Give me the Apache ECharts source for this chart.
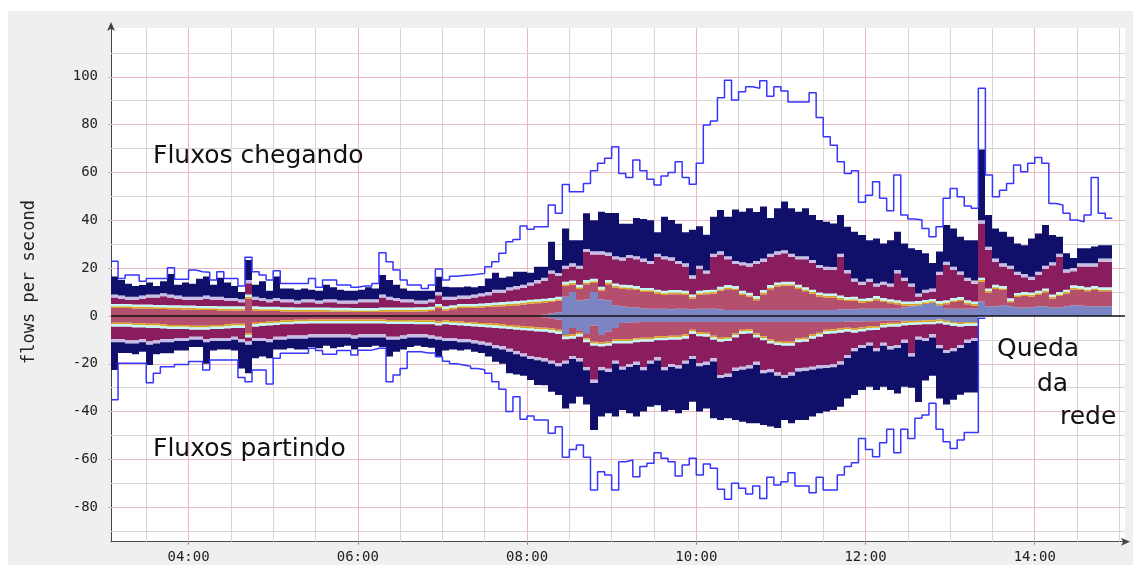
<!DOCTYPE html>
<html>
<head>
<meta charset="utf-8">
<script src="https://cdn.jsdelivr.net/npm/echarts@6/dist/echarts.min.js"></script>
<style>
  html, body { margin: 0; padding: 0; background: #fff; }
  #chart { width: 1133px; height: 565px; }
</style>
</head>
<body>
<div id="chart"></div>
<script>
// Flow rate per 5-minute bin, starting at 03:05 (minutes after midnight)
const startMinute = 185;
const binMinutes = 5;

// Incoming flows (positive side)
const inPeak = [
  22.9, 15.7, 17.1, 17.1, 14.5, 15.7, 15.7, 15.7, 20.2, 15.3,
  15.3, 19.2, 18.5, 18.3, 15.0, 18.5, 15.7, 15.7, 12.5, 24.5,
  18.5, 17.1, 15.0, 18.9, 13.6, 13.6, 13.6, 13.6, 15.7, 12.0,
  15.0, 15.0, 12.9, 12.9, 12.0, 12.5, 12.5, 13.6, 26.4, 22.7,
  19.2, 15.0, 12.9, 12.9, 11.5, 12.9, 19.6, 15.0, 16.6, 16.9,
  17.1, 17.4, 17.8, 20.6, 22.7, 26.2, 31.0, 32.0, 37.6, 36.2,
  37.3, 37.3, 46.4, 42.9, 55.0, 51.9, 51.9, 55.4, 60.7, 63.8,
  65.9, 70.7, 59.6, 57.9, 65.2, 60.7, 57.2, 54.7, 58.5, 60.0,
  64.5, 57.9, 55.1, 63.8, 79.8, 81.5, 91.2, 98.6, 90.3, 93.7,
  95.8, 95.2, 98.3, 91.9, 95.8, 94.1, 89.5, 89.5, 89.5, 93.3,
  83.0, 74.9, 71.4, 64.5, 59.6, 60.7, 47.5, 50.5, 56.1, 49.2,
  44.0, 58.9, 42.2, 40.5, 40.1, 36.6, 33.1, 37.3, 49.2, 53.3,
  49.8, 46.0, 45.0, 95.2, 58.9, 49.8, 52.6, 55.4, 63.1, 60.3,
  63.8, 66.3, 63.8, 47.0, 46.4, 42.9, 40.1, 39.4, 42.2, 57.9,
  42.9, 40.8
];
const inTotal = [
  16.5, 15.0, 13.5, 12.5, 12.9, 14.0, 12.5, 14.5, 17.5, 13.0,
  14.0, 13.5, 15.5, 16.5, 13.0, 16.0, 14.0, 12.5, 10.0, 23.4,
  13.0, 14.5, 10.5, 16.5, 11.5, 11.5, 11.0, 11.5, 11.0, 10.5,
  13.0, 12.0, 11.0, 10.5, 10.5, 11.0, 12.0, 11.5, 17.1, 15.0,
  13.0, 11.5, 10.5, 10.5, 10.5, 10.5, 16.4, 12.2, 12.0, 12.0,
  12.3, 12.0, 12.5, 15.7, 18.1, 16.0, 16.5, 18.5, 18.5, 18.1,
  20.6, 20.6, 31.0, 23.4, 36.6, 31.7, 31.7, 42.9, 40.0, 43.6,
  43.0, 43.0, 38.5, 38.5, 41.0, 40.5, 40.0, 35.0, 41.5, 40.1,
  38.5, 35.0, 36.0, 37.5, 34.0, 41.5, 44.3, 41.5, 44.5, 43.6,
  45.0, 43.5, 45.8, 41.0, 45.0, 47.8, 45.0, 43.6, 45.0, 42.2,
  40.1, 39.4, 38.7, 42.2, 37.3, 35.2, 33.8, 31.7, 32.4, 30.3,
  31.7, 35.2, 30.3, 28.3, 27.6, 26.2, 22.1, 26.9, 38.0, 36.6,
  33.1, 31.7, 31.7, 69.6, 42.2, 36.6, 35.2, 33.1, 30.3, 29.6,
  32.4, 34.5, 38.0, 33.8, 33.1, 26.2, 24.2, 28.3, 28.3, 29.0,
  29.6, 29.6
];
const inMaroon = [
  9.0, 8.5, 8.0, 8.0, 8.5, 9.0, 9.0, 9.5, 9.0, 8.5,
  8.0, 8.0, 8.0, 8.5, 8.0, 8.0, 7.5, 7.5, 7.0, 15.0,
  8.0, 7.5, 7.0, 7.5, 7.0, 7.0, 6.5, 7.0, 7.0, 6.5,
  7.0, 7.0, 6.5, 6.5, 6.5, 7.0, 7.0, 7.0, 9.0, 8.0,
  7.5, 7.0, 7.0, 6.5, 6.5, 7.0, 10.0, 8.0, 8.0, 8.5,
  8.5, 9.0, 9.5, 10.0, 11.0, 11.0, 12.0, 12.5, 13.0, 14.0,
  15.0, 16.0, 19.0, 18.0, 21.0, 22.0, 21.0, 28.0, 27.0, 27.0,
  26.5, 25.0, 24.5, 25.5, 25.0, 24.0, 23.0, 26.0, 25.0, 24.5,
  23.0, 22.0, 17.0, 21.0, 19.0, 26.0, 27.0, 25.0, 23.0, 22.5,
  22.0, 23.0, 24.0, 26.0, 27.0, 27.5, 26.0, 25.0, 25.0, 23.4,
  21.3, 20.6, 20.5, 26.0, 19.2, 15.7, 14.3, 15.5, 13.6, 14.3,
  13.6, 19.2, 16.0, 13.6, 9.4, 11.0, 11.5, 18.5, 22.7, 20.6,
  18.6, 16.0, 14.8, 40.0, 28.9, 24.0, 22.0, 21.0, 18.5, 17.5,
  16.4, 18.5, 21.0, 22.5, 26.0, 19.5, 20.0, 22.0, 22.0, 22.0,
  24.0, 24.0
];
const inCyan = [
  5.0, 5.0, 5.0, 4.8, 4.8, 4.8, 4.6, 4.6, 4.5, 4.5,
  4.4, 4.4, 4.2, 4.2, 4.2, 4.0, 4.0, 4.0, 4.0, 9.0,
  4.0, 3.8, 3.8, 3.8, 3.6, 3.6, 3.5, 3.5, 3.5, 3.5,
  3.5, 3.4, 3.4, 3.4, 3.3, 3.3, 3.3, 3.3, 3.5, 3.5,
  3.5, 3.5, 3.5, 3.6, 3.6, 3.8, 5.0, 4.0, 4.5, 5.0,
  5.0, 5.0, 5.2, 5.4, 5.6, 5.8, 6.0, 6.2, 6.5, 6.8,
  7.0, 7.2, 7.5, 8.0, 14.3, 14.8, 13.0, 15.0, 15.5, 12.2,
  15.0, 13.6, 13.0, 12.9, 12.5, 11.7, 11.7, 11.0, 10.5, 10.8,
  10.8, 10.5, 9.0, 10.5, 10.8, 11.0, 12.2, 12.9, 12.5, 10.5,
  9.7, 8.3, 10.8, 12.9, 14.0, 14.3, 14.3, 13.0, 12.0, 11.0,
  9.8, 9.4, 9.4, 8.5, 7.9, 8.0, 7.2, 7.5, 8.3, 7.5,
  7.0, 6.6, 6.0, 6.0, 5.4, 5.0, 4.5, 4.1, 6.6, 7.5,
  7.9, 6.6, 6.0, 16.0, 11.5, 13.0, 12.5, 7.4, 9.6, 10.0,
  9.8, 10.5, 11.5, 9.0, 10.0, 11.0, 12.8, 12.5, 12.0, 12.5,
  12.0, 12.0
];
const inSlate = [
  0, 0, 0, 0, 0, 0, 0, 0, 0, 0,
  0, 0, 0, 0, 0, 0, 0, 0, 0, 0,
  0, 0, 0, 0, 0, 0, 0, 0, 0, 0,
  0, 0, 0, 0, 0, 0, 0, 0, 0, 0,
  0, 0, 0, 0, 0, 0, 0, 0, 0, 0,
  0, 0, 0, 0, 0, 0, 0, 0, 0, 0,
  0, 0.5, 1.0, 1.5, 8.0, 10.0, 6.5, 7.0, 10.0, 7.0,
  6.5, 4.5, 4.0, 3.5, 3.5, 3.2, 3.0, 3.0, 3.0, 2.8,
  3.0, 3.0, 2.8, 3.0, 3.0, 3.0, 2.8, 2.5, 2.5, 2.5,
  2.5, 2.5, 2.5, 2.5, 2.5, 2.5, 2.5, 2.5, 2.5, 2.5,
  2.5, 2.5, 2.5, 2.8, 2.8, 2.8, 3.0, 3.0, 3.0, 3.0,
  3.0, 3.0, 3.5, 4.0, 4.5, 5.0, 5.4, 4.5, 3.0, 3.0,
  3.0, 3.0, 3.0, 6.0, 4.0, 4.0, 4.5, 4.0, 3.5, 3.5,
  3.5, 4.0, 4.0, 3.5, 3.5, 4.0, 4.5, 4.5, 4.0, 4.0,
  4.0, 4.0
];

// Outgoing flows (negative side); the last bin is the moment the network went down
const outPeak = [
  -35.0, -19.8, -19.8, -19.8, -19.8, -27.9, -24.0, -21.2, -21.2, -20.3,
  -20.3, -19.1, -19.1, -22.6, -18.4, -18.4, -18.4, -18.4, -25.7, -27.5,
  -22.6, -22.6, -28.5, -17.7, -15.6, -15.6, -15.6, -15.6, -13.5, -14.5,
  -16.0, -16.0, -14.5, -14.5, -16.3, -14.3, -14.3, -13.5, -13.5, -27.5,
  -24.7, -22.0, -15.0, -15.0, -15.5, -15.5, -17.1, -18.9, -20.0, -20.5,
  -21.0, -22.0, -22.5, -24.0, -27.5, -30.7, -40.0, -33.8, -43.2, -41.8,
  -43.5, -43.5, -49.1, -46.3, -59.1, -55.8, -54.0, -59.1, -72.8, -65.1,
  -66.5, -72.8, -61.0, -60.2, -67.2, -63.0, -61.6, -57.2, -59.5, -61.0,
  -66.9, -62.3, -59.5, -66.5, -61.9, -63.7, -72.5, -76.7, -70.0, -72.1,
  -74.5, -71.1, -76.3, -67.5, -70.7, -69.3, -65.6, -71.1, -71.1, -73.9,
  -67.5, -72.8, -72.8, -66.5, -63.0, -61.4, -51.2, -55.8, -58.9, -53.0,
  -47.4, -57.2, -47.4, -51.2, -42.8, -41.4, -36.5, -47.4, -52.6, -55.4,
  -51.9, -48.7, -48.7, -1.0
];
const outTotal = [
  -22.6, -15.5, -15.5, -16.0, -15.0, -20.5, -16.0, -15.6, -15.6, -14.5,
  -14.5, -13.0, -13.0, -20.0, -14.5, -14.0, -14.0, -14.5, -22.0, -24.0,
  -17.7, -17.0, -17.7, -14.0, -14.0, -13.5, -14.0, -14.0, -13.0, -13.5,
  -12.5, -13.5, -13.0, -12.5, -14.0, -13.0, -13.0, -12.5, -13.0, -17.0,
  -15.0, -14.0, -13.0, -12.5, -13.0, -13.3, -17.0, -14.4, -14.0, -14.5,
  -14.0, -15.0, -15.5, -17.0, -19.2, -20.0, -24.0, -24.5, -25.0, -26.8,
  -28.9, -29.0, -31.7, -33.1, -38.7, -36.6, -33.8, -37.0, -47.7, -42.1,
  -40.7, -42.0, -39.3, -40.7, -42.1, -40.0, -38.0, -37.3, -40.0, -39.3,
  -40.7, -39.3, -35.9, -40.0, -38.7, -42.8, -43.5, -42.8, -43.5, -44.2,
  -44.9, -44.9, -45.6, -46.2, -46.9, -43.5, -44.9, -43.5, -43.5, -42.1,
  -40.7, -40.0, -39.3, -38.0, -34.5, -33.1, -31.0, -29.6, -31.0, -29.6,
  -31.0, -32.4, -29.6, -30.0, -36.0, -27.0, -25.0, -34.5, -37.0, -35.0,
  -33.0, -32.0, -32.0, 0
];
const outMaroon = [
  -11.0, -11.0, -11.5, -11.5, -11.0, -12.0, -11.5, -11.0, -11.0, -10.5,
  -10.5, -10.0, -10.0, -11.0, -10.5, -10.5, -10.5, -10.0, -11.0, -12.0,
  -10.5, -10.5, -11.0, -10.0, -10.0, -9.5, -9.5, -9.5, -9.0, -9.0,
  -9.0, -9.0, -9.0, -9.0, -9.5, -9.0, -9.0, -9.0, -9.0, -10.0,
  -10.0, -9.5, -9.0, -9.0, -9.0, -9.5, -10.0, -10.5, -10.5, -11.0,
  -11.0, -11.5, -12.0, -12.5, -13.5, -14.0, -15.0, -16.0, -17.0, -18.0,
  -18.5, -19.0, -20.0, -21.0, -20.0, -18.0, -19.0, -22.7, -28.0, -22.7,
  -23.4, -20.0, -22.5, -21.4, -20.5, -22.7, -20.0, -18.6, -22.7, -21.4,
  -22.0, -20.0, -18.0, -21.0, -20.5, -19.0, -26.0, -25.5, -23.0, -22.5,
  -22.0, -20.5, -24.0, -23.5, -25.0, -26.0, -25.0, -23.2, -23.0, -22.5,
  -22.0, -21.8, -21.5, -20.4, -17.6, -14.8, -13.4, -12.5, -14.8, -12.5,
  -14.0, -13.4, -11.3, -17.0, -10.0, -10.5, -9.0, -13.5, -15.5, -14.8,
  -13.4, -11.3, -10.5, 0
];
const outCyan = [
  -4.5, -4.5, -4.5, -4.8, -4.8, -5.0, -5.0, -5.2, -5.5, -5.5,
  -5.5, -5.8, -5.8, -5.8, -5.5, -5.5, -5.2, -5.0, -5.0, -9.0,
  -4.5, -4.2, -4.0, -3.8, -3.5, -3.5, -3.3, -3.3, -3.2, -3.2,
  -3.2, -3.2, -3.2, -3.2, -3.2, -3.2, -3.2, -3.2, -3.2, -3.4,
  -3.4, -3.4, -3.4, -3.5, -3.5, -3.5, -4.0, -3.5, -3.8, -4.0,
  -4.2, -4.4, -4.6, -4.8, -5.0, -5.2, -5.5, -5.8, -6.0, -6.2,
  -6.5, -6.6, -7.0, -7.5, -8.7, -9.5, -8.7, -11.0, -12.5, -12.8,
  -12.5, -11.5, -11.5, -11.5, -11.0, -10.8, -10.8, -10.2, -10.2, -10.0,
  -10.0, -9.5, -7.5, -8.5, -8.7, -10.0, -10.8, -10.5, -9.0, -7.5,
  -7.3, -9.0, -10.2, -11.5, -12.2, -12.5, -12.5, -11.0, -10.8, -9.5,
  -8.7, -7.5, -7.3, -7.0, -6.6, -7.0, -6.5, -6.0, -5.9, -4.8,
  -4.5, -4.5, -4.0, -3.8, -3.3, -3.1, -2.7, -2.4, -3.5, -4.2,
  -4.5, -4.0, -3.5, 0
];
const outSlate = [
  0, 0, 0, 0, 0, 0, 0, 0, 0, 0,
  0, 0, 0, 0, 0, 0, 0, 0, 0, 0,
  0, 0, 0, 0, 0, 0, 0, 0, 0, 0,
  0, 0, 0, 0, 0, 0, 0, 0, 0, 0,
  0, 0, 0, 0, 0, 0, 0, 0, 0, 0,
  0, 0, 0, 0, 0, 0, 0, 0, 0, 0,
  0, -0.5, -1.0, -1.5, -8.0, -5.0, -6.0, -7.5, -4.0, -8.0,
  -6.5, -5.0, -3.0, -2.8, -2.6, -2.5, -2.5, -2.5, -2.5, -2.5,
  -2.5, -2.5, -2.5, -2.5, -2.5, -2.5, -2.5, -2.5, -2.5, -2.5,
  -2.5, -2.5, -2.5, -2.5, -2.5, -2.5, -2.5, -2.5, -2.5, -2.5,
  -2.5, -2.5, -2.5, -2.5, -2.3, -2.3, -2.3, -2.2, -2.2, -2.0,
  -2.0, -2.0, -2.0, -2.0, -2.0, -1.8, -1.8, -1.5, -2.0, -2.5,
  -2.5, -2.5, -2.5, 0
];

// Thickness of the narrow layers (flows per second)
const orangeBand = 0.7;
const cyanBand = 1.0;
const lavenderBand = 1.3;

// Axis ticks
const yTickValues = [-80, -60, -40, -20, 0, 20, 40, 60, 80, 100];
const xTickMinutes = [240, 360, 480, 600, 720, 840];

// Layer colours, from the zero line outwards
const layerColors = ['#7c85c3', '#b4506e', '#dba523', '#c4f7f7', '#8a1d5d', '#c7bde6', '#10106a'];

const binStart = i => startMinute + i * binMinutes;

// Step points: each value holds for its whole bin, closed by a final point
function stepPoints(values) {
  const pts = values.map((v, i) => [binStart(i), v]);
  pts.push([binStart(values.length), values[values.length - 1]]);
  return pts;
}

// One row per bin: [binStart, binEnd, boundary0 .. boundary7] in signed flow units
function layerRows(total, maroon, cyan, slate, sign) {
  return total.map((tv, i) => {
    const t = Math.abs(tv);
    let b;
    if (t === 0) {
      b = [0, 0, 0, 0, 0, 0, 0, 0];
    } else {
      const b1 = Math.abs(slate[i]);
      const b2 = Math.max(b1, Math.abs(cyan[i]) - cyanBand - orangeBand);
      const b3 = b2 + orangeBand;
      const b4 = b3 + cyanBand;
      const b5 = Math.max(b4, Math.abs(maroon[i]) - lavenderBand);
      const b6 = b5 + lavenderBand;
      const b7 = Math.max(b6, t);
      b = [0, b1, b2, b3, b4, b5, b6, b7];
    }
    return [binStart(i), binStart(i + 1)].concat(b.map(v => sign * v));
  });
}

const inRows = layerRows(inTotal, inMaroon, inCyan, inSlate, 1);
const outRows = layerRows(outTotal, outMaroon, outCyan, outSlate, -1);

function renderLayers(params, api) {
  const xa = Math.round(api.coord([api.value(0), 0])[0]);
  const xb = Math.round(api.coord([api.value(1), 0])[0]);
  const children = [];
  for (let j = 0; j < 7; j++) {
    const ya = api.coord([api.value(0), api.value(2 + j)])[1];
    const yb = api.coord([api.value(0), api.value(3 + j)])[1];
    const h = Math.abs(yb - ya);
    if (h < 0.01) continue;
    children.push({
      type: 'rect',
      shape: { x: xa, y: Math.min(ya, yb), width: xb - xa, height: h },
      style: { fill: layerColors[j] }
    });
  }
  return { type: 'group', children };
}

function layerSeries(name, rows) {
  return {
    type: 'custom',
    name: name,
    data: rows,
    renderItem: renderLayers,
    encode: { x: [0, 1], y: [2, 3, 4, 5, 6, 7, 8, 9] },
    z: 3,
    silent: true,
    clip: true
  };
}

function peakSeries(name, values) {
  return {
    type: 'line',
    name: name,
    step: 'end',
    data: stepPoints(values),
    showSymbol: false,
    symbol: 'none',
    lineStyle: { color: '#3535ff', width: 1.5 },
    z: 4,
    silent: true
  };
}

const pinkGrid = '#ecb6c2';
const greyGrid = '#d6d6d6';
const gridLines = [];
for (let m = 210; m <= 900; m += 30) {
  gridLines.push({ xAxis: m, lineStyle: { color: m % 120 === 0 ? pinkGrid : greyGrid } });
}
for (let v = -90; v <= 110; v += 10) {
  if (v === 0) continue;
  gridLines.push({ yAxis: v, lineStyle: { color: v % 20 === 0 ? pinkGrid : greyGrid } });
}

const hourLabel = m => String(Math.floor(m / 60)).padStart(2, '0') + ':00';

const chart = echarts.init(document.getElementById('chart'), null, { renderer: 'canvas' });

chart.setOption({
  animation: false,
  backgroundColor: '#ffffff',
  grid: { left: 111, right: 8, top: 28, bottom: 23.3, containLabel: false },
  xAxis: {
    type: 'value',
    min: 185,
    max: 904,
    axisLine: {
      show: true, onZero: false,
      lineStyle: { color: '#444', width: 1 },
      symbol: ['none', 'arrow'], symbolSize: [6, 9], symbolOffset: [0, 5]
    },
    axisTick: { show: true, customValues: xTickMinutes, length: 3, lineStyle: { color: '#888' } },
    axisLabel: {
      customValues: xTickMinutes,
      formatter: hourLabel,
      fontFamily: 'DejaVu Sans Mono',
      fontSize: 14,
      color: '#222',
      margin: 9
    },
    splitLine: { show: false }
  },
  yAxis: {
    type: 'value',
    min: -94.4,
    max: 120.4,
    axisLine: {
      show: true, onZero: false,
      lineStyle: { color: '#444', width: 1 },
      symbol: ['none', 'arrow'], symbolSize: [6, 9], symbolOffset: [0, 6]
    },
    axisTick: { show: true, customValues: yTickValues, length: 3, lineStyle: { color: pinkGrid } },
    axisLabel: {
      customValues: yTickValues,
      fontFamily: 'DejaVu Sans Mono',
      fontSize: 14,
      color: '#222',
      margin: 13
    },
    splitLine: { show: false }
  },
  graphic: [
    { type: 'rect', z: -2, silent: true, shape: { x: 8, y: 11, width: 1125, height: 554 }, style: { fill: '#efefef' } },
    { type: 'rect', z: -1, silent: true, shape: { x: 111, y: 28, width: 1014, height: 513.7 }, style: { fill: '#ffffff' } },
    {
      type: 'text', x: 30, y: 282, rotation: Math.PI / 2, z: 100, silent: true,
      style: { text: 'flows per second', font: '17px "DejaVu Sans Mono"', fill: '#222', align: 'center', verticalAlign: 'middle' }
    },
    { type: 'text', x: 153, y: 156, z: 100, silent: true,
      style: { text: 'Fluxos chegando', font: '25px "DejaVu Sans"', fill: '#111', align: 'left', verticalAlign: 'middle' } },
    { type: 'text', x: 153, y: 449, z: 100, silent: true,
      style: { text: 'Fluxos partindo', font: '25px "DejaVu Sans"', fill: '#111', align: 'left', verticalAlign: 'middle' } },
    { type: 'text', x: 997, y: 349, z: 100, silent: true,
      style: { text: 'Queda', font: '25px "DejaVu Sans"', fill: '#111', align: 'left', verticalAlign: 'middle' } },
    { type: 'text', x: 1037, y: 384, z: 100, silent: true,
      style: { text: 'da', font: '25px "DejaVu Sans"', fill: '#111', align: 'left', verticalAlign: 'middle' } },
    { type: 'text', x: 1060, y: 417, z: 100, silent: true,
      style: { text: 'rede', font: '25px "DejaVu Sans"', fill: '#111', align: 'left', verticalAlign: 'middle' } }
  ],
  series: [
    {
      type: 'line', name: 'grid', data: [], z: 1, silent: true,
      markLine: {
        z: 1, silent: true, animation: false, symbol: ['none', 'none'],
        label: { show: false }, lineStyle: { type: 'solid', width: 1 },
        data: gridLines
      }
    },
    layerSeries('in-layers', inRows),
    layerSeries('out-layers', outRows),
    peakSeries('in-peak', inPeak),
    peakSeries('out-peak', outPeak),
    {
      type: 'line', name: 'zero', data: [], z: 6, silent: true,
      markLine: {
        z: 6, silent: true, animation: false, symbol: ['none', 'none'],
        label: { show: false },
        lineStyle: { type: 'solid', width: 1.5, color: '#111' },
        data: [{ yAxis: 0 }]
      }
    }
  ]
});
</script>
</body>
</html>
